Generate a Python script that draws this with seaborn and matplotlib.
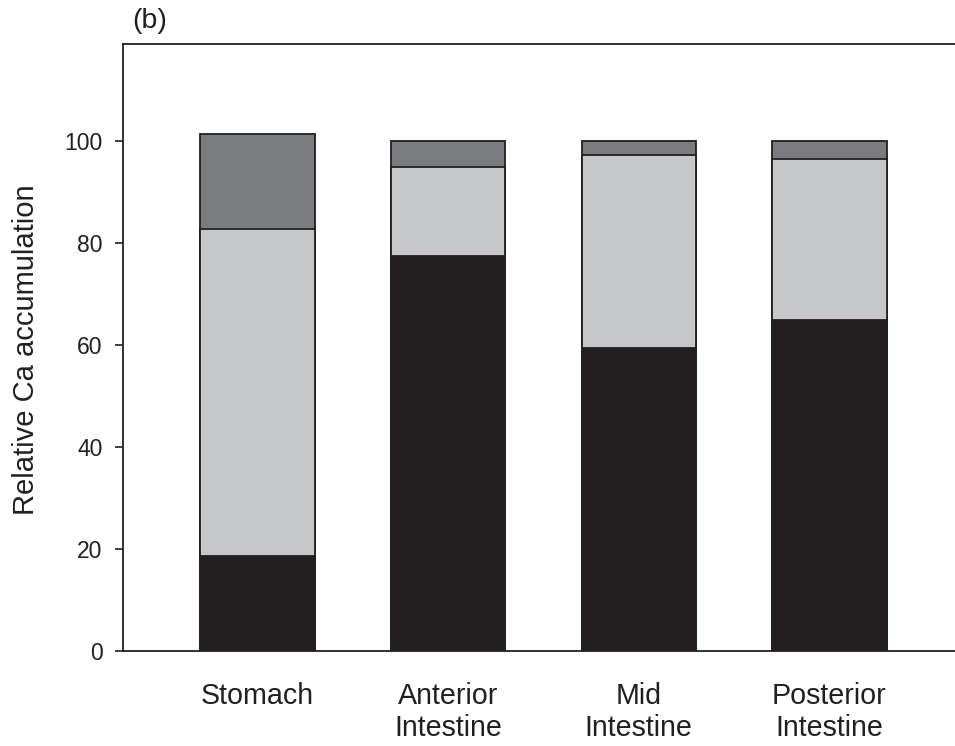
import numpy as np
import pandas as pd
import matplotlib
matplotlib.use("Agg")
import matplotlib.pyplot as plt
import seaborn as sns

categories = ["Stomach", "Anterior\nIntestine", "Mid\nIntestine", "Posterior\nIntestine"]
black_part = [18.7, 77.5, 59.5, 64.8]
light_part = [64.1, 17.3, 37.7, 31.6]
dark_part = [18.5, 5.2, 2.8, 3.6]

sns.set_theme(style="white")
plt.rcParams['font.family'] = ['Liberation Sans', 'DejaVu Sans']

df = pd.DataFrame({
    "cat": categories,
    "black": black_part,
    "light": light_part,
    "dark": dark_part,
})
df["cum1"] = df["black"]
df["cum2"] = df["black"] + df["light"]
df["cum3"] = df["cum2"] + df["dark"]

fig = plt.figure(figsize=(9.55, 7.46), dpi=100)
ax = fig.add_axes([123/955, 1 - 651/746, 1 - 123/955 + 0.002, (651 - 44)/746])

edge = "#231f20"
for col, color in [("cum3", "#7b7c80"), ("cum2", "#c6c7c9"), ("cum1", "#231f20")]:
    sns.barplot(data=df, x="cat", y=col, order=categories, color=color,
                width=0.6, edgecolor=edge, linewidth=1.3, saturation=1,
                ax=ax, errorbar=None)

ax.set_xlim(-0.704, 3.668)
ax.set_ylim(0, 119)
ax.set_yticks([0, 20, 40, 60, 80, 100])
ax.set_xlabel("")
ax.set_ylabel("Relative Ca accumulation", fontsize=21, color="#231f20")
ax.yaxis.set_label_coords(-0.0994, 0.497)

for s in ["left", "bottom", "top"]:
    ax.spines[s].set_visible(True)
    ax.spines[s].set_color("#231f20")
    ax.spines[s].set_linewidth(1.3)
ax.spines["right"].set_visible(False)

ax.tick_params(axis="y", direction="out", length=5.8, width=1.2, color="#231f20",
               labelsize=16.5, labelcolor="#231f20", pad=9, left=True)
ax.tick_params(axis="x", length=0, labelsize=20.6, labelcolor="#231f20", pad=22)

fig.text(132/955, 1 - 28/746, "(b)", fontsize=20.5, color="#231f20", ha="left", va="baseline")

fig.savefig("out.png", dpi=100)
